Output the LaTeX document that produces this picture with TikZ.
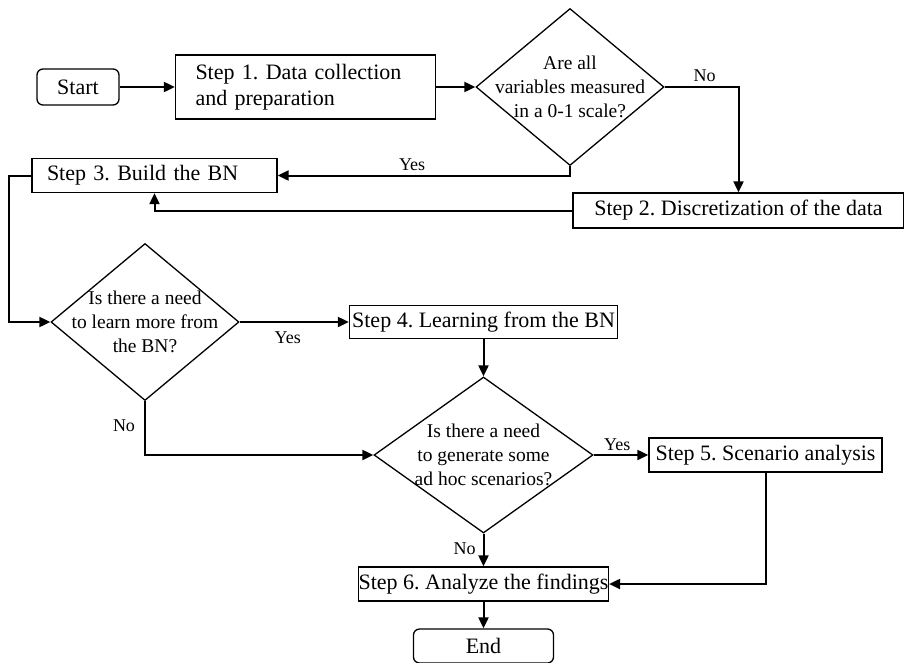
\documentclass[tikz,border=0pt]{standalone}
\usepackage{fontspec}
\setmainfont{Liberation Serif}
\usetikzlibrary{arrows.meta,shapes.geometric}
\frenchspacing

\begin{document}
\begin{tikzpicture}[x=1pt,y=-1pt,stepbox/.style={draw, line width=1.3pt, minimum height=34pt, inner sep=0pt, font=\fontsize{22}{26}\selectfont},terminal/.style={stepbox, rounded corners=6pt},decision/.style={draw, diamond, line width=1.3pt, inner sep=0pt},question/.style={align=center, inner sep=0pt, font=\fontsize{19.5}{24}\selectfont},flow/.style={line width=2pt, -{Triangle[length=11pt,width=10pt]}},answer/.style={font=\fontsize{18}{19}\selectfont, inner sep=2pt}]
\useasboundingbox (0,0) rectangle (904,662);
\node[terminal, minimum width=82pt, minimum height=36pt] (start) at (78,87) {Start};
\node[stepbox, minimum height=64pt, inner xsep=20pt, text width=220pt, align=left] (s1) at (305.5,87) {Step 1. Data collection\\and preparation};
\node[decision, minimum width=188pt, minimum height=157pt] (d1) at (570,87) {}; \node[question] (d1t) at (d1) {Are all\\variables measured\\in a 0-1 scale?};
\node[stepbox, minimum width=331pt, minimum height=35pt] (s2) at (738.5,210.5) {Step 2. Discretization of the data};
\node[stepbox, inner xsep=15pt, text width=215pt, align=left] (s3) at (154.5,175.5) {Step 3. Build the BN};
\node[decision, minimum width=188pt, minimum height=157pt] (d2) at (145,322) {}; \node[question] (d2t) at (d2) {Is there a need\\to learn more from\\the BN?};
\node[stepbox, minimum width=268pt, minimum height=33pt] (s4) at (483.5,322) {Step 4. Learning from the BN};
\node[decision, minimum width=219pt, minimum height=156pt] (d3) at (483.5,455) {}; \node[question] (d3t) at (d3) {Is there a need\\to generate some\\ad hoc scenarios?};
\node[stepbox, minimum width=233pt] (s5) at (765.5,455) {Step 5. Scenario analysis};
\node[stepbox, minimum width=249pt] (s6) at (483.5,584) {Step 6. Analyze the findings};
\node[terminal, minimum width=140pt] (end) at (483.5,646) {End};
\draw[flow] (start) -- (s1); \draw[flow] (s1) -- (d1.west);
\draw[flow] (d1.east) -| node[answer, pos=0.27, above=2pt] {No} (s2.north);
\draw[flow] (d1.south) |- node[answer, pos=0.77, above=2pt] {Yes} (s3.east);
\draw[flow] (s2.west) -| (s3.south);
\draw[flow] (s3.west) -- ++(-22,0) |- (d2.west);
\draw[flow] (d2.east) -- node[answer, pos=0.44, below=7pt] {Yes} (s4.west);
\draw[flow] (s4.south) -- (d3.north);
\draw[flow] (d2.south) |- node[answer, pos=0.23, left=7pt] {No} (d3.west);
\draw[flow] (d3.east) -- node[answer, pos=0.43, above=1pt] {Yes} (s5.west);
\draw[flow] (d3.south) -- node[answer, pos=0.45, left=5pt] {No} (s6.north);
\draw[flow] (s5.south) |- (s6.east);
\draw[flow] (s6.south) -- (end.north);
\end{tikzpicture}
\end{document}
